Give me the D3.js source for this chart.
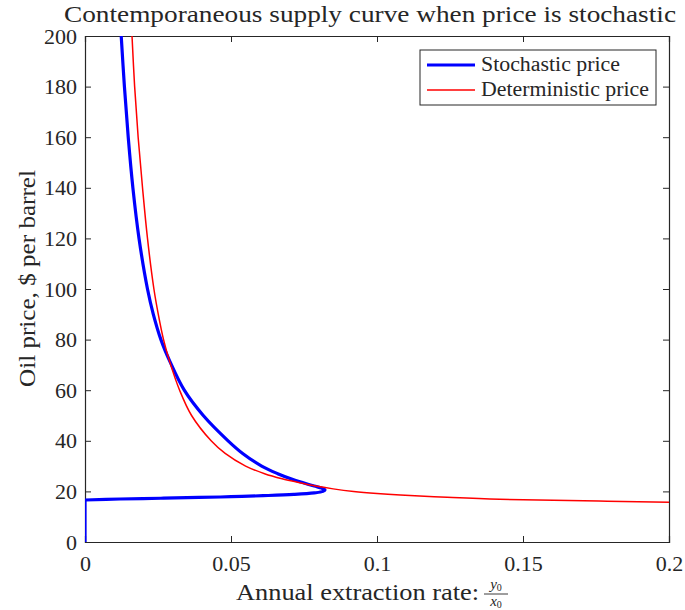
<!DOCTYPE html>
<html>
<head>
<meta charset="utf-8">
<script src="https://cdn.jsdelivr.net/npm/d3@7"></script>
<style>
  html, body { margin: 0; padding: 0; background: #fff; }
  svg text { font-family: "Liberation Serif", "DejaVu Serif", serif; fill: #262626; }
</style>
</head>
<body>
<svg id="chart" width="685" height="610"></svg>
<script>
// Stochastic-price supply curve, traced in order of price.
// Zero extraction up to the threshold price, then the curve.
const stochPriceLow = [0, 16.6];
const stochRateLow  = [0, 0];
const stochPrice = [16.6, 17.0, 17.3, 17.6, 17.9, 18.3, 18.8, 19.4, 20.0, 20.6, 21.3, 22.1, 23.5, 25.0, 27.0, 30.0, 35.0, 40, 50, 60, 71.3, 80, 90, 100, 120, 140, 160, 180, 200];
const stochRate  = [0, 0.012, 0.026, 0.039, 0.050, 0.061, 0.0715, 0.0785, 0.0815, 0.0822, 0.081, 0.0785, 0.0745, 0.0705, 0.0660, 0.0605, 0.0540, 0.0490, 0.0405, 0.0340, 0.0291, 0.0260, 0.0234, 0.0214, 0.0185, 0.0164, 0.0148, 0.0135, 0.0124];

// Deterministic-price supply curve
const detPriceLow = [0, 13.6];
const detRateLow  = [0, 0];
const detPrice = [15.6, 15.7, 16.2, 16.9, 17.7, 18.6, 19.2, 20.0, 21.0, 22.1, 23.4, 25.0, 27.0, 30.0, 35.0, 40, 50, 60, 71.3, 80, 90, 100, 120, 140, 160, 180, 200];
const detRate  = [0.21, 0.2, 0.176, 0.142, 0.124, 0.108, 0.1, 0.092, 0.085, 0.079, 0.0736, 0.0675, 0.0615, 0.0550, 0.0480, 0.0432, 0.0365, 0.0324, 0.0290, 0.0269, 0.0251, 0.0236, 0.0214, 0.0197, 0.0182, 0.0170, 0.0161];

const xTicks = [0, 0.05, 0.1, 0.15, 0.2];
const xTickLabels = ["0", "0.05", "0.1", "0.15", "0.2"];
const yTicks = [0, 20, 40, 60, 80, 100, 120, 140, 160, 180, 200];

const seriesNames = ["Stochastic price", "Deterministic price"];
const seriesColors = ["#0000ff", "#ff0000"];

const svg = d3.select("#chart");
const m = { left: 85, right: 669, top: 36, bottom: 542 };
const axisColor = "#262626";
const serif = '"Liberation Serif", "DejaVu Serif", serif';

const x = d3.scaleLinear().domain([0, 0.2]).range([m.left, m.right]);
const y = d3.scaleLinear().domain([0, 200]).range([m.bottom, m.top]);

svg.append("defs").append("clipPath").attr("id", "plotClip")
  .append("rect").attr("x", m.left).attr("y", m.top)
  .attr("width", m.right - m.left).attr("height", m.bottom - m.top);

// Axes with inward ticks on all four sides
const tickLen = 6;
const gBottom = svg.append("g").attr("transform", `translate(0,${m.bottom})`)
  .call(d3.axisBottom(x).tickValues(xTicks).tickSize(-tickLen).tickPadding(13)
        .tickFormat((d, i) => xTickLabels[i]));
const gTop = svg.append("g").attr("transform", `translate(0,${m.top})`)
  .call(d3.axisTop(x).tickValues(xTicks).tickSize(-tickLen).tickFormat(""));
const gLeft = svg.append("g").attr("transform", `translate(${m.left},0)`)
  .call(d3.axisLeft(y).tickValues(yTicks).tickSize(-tickLen).tickPadding(8));
const gRight = svg.append("g").attr("transform", `translate(${m.right},0)`)
  .call(d3.axisRight(y).tickValues(yTicks).tickSize(-tickLen).tickFormat(""));

[gBottom, gTop, gLeft, gRight].forEach(g => {
  g.select(".domain").attr("stroke", axisColor).attr("stroke-width", 1.2);
  g.selectAll(".tick line").attr("stroke", axisColor).attr("stroke-width", 1);
  g.selectAll(".tick text").attr("fill", axisColor)
    .style("font-family", serif)
    .style("font-size", "22px");
});

// Curves
const plot = svg.append("g").attr("clip-path", "url(#plotClip)");
const straight = d3.line().x(d => x(d[0])).y(d => y(d[1]));
const smooth = d3.line().x(d => x(d[0])).y(d => y(d[1])).curve(d3.curveCatmullRom.alpha(0.5));

const toPts = (ps, rs) => ps.map((p, i) => [rs[i], p]);

plot.append("path").datum(toPts(detPriceLow, detRateLow)).attr("d", straight)
  .attr("fill", "none").attr("stroke", seriesColors[1]).attr("stroke-width", 1.5);
plot.append("path").datum(toPts(stochPriceLow, stochRateLow)).attr("d", straight)
  .attr("fill", "none").attr("stroke", seriesColors[0]).attr("stroke-width", 3.2);
plot.append("path").datum(toPts(stochPrice, stochRate)).attr("d", smooth)
  .attr("fill", "none").attr("stroke", seriesColors[0]).attr("stroke-width", 3.2)
  .attr("stroke-linejoin", "round");
plot.append("path").datum(toPts(detPrice, detRate)).attr("d", smooth)
  .attr("fill", "none").attr("stroke", seriesColors[1]).attr("stroke-width", 1.5)
  .attr("stroke-linejoin", "round");

// Title
svg.append("text").attr("x", 370).attr("y", 22).attr("text-anchor", "middle")
  .style("font-size", "23px")
  .attr("textLength", 612).attr("lengthAdjust", "spacingAndGlyphs")
  .text("Contemporaneous supply curve when price is stochastic");

// Y label
svg.append("text").attr("transform", "translate(35,278.5) rotate(-90)")
  .attr("text-anchor", "middle").style("font-size", "23px")
  .attr("textLength", 217).attr("lengthAdjust", "spacingAndGlyphs")
  .text("Oil price, $ per barrel");

// X label with the fraction y0/x0
svg.append("text").attr("x", 236).attr("y", 600)
  .style("font-size", "24px")
  .attr("textLength", 243).attr("lengthAdjust", "spacingAndGlyphs")
  .text("Annual extraction rate:");
const fx = 496;
const frac = svg.append("g");
const num = frac.append("text").attr("x", fx).attr("y", 589).attr("text-anchor", "middle")
  .style("font-size", "15px").style("font-style", "italic");
num.append("tspan").text("y");
num.append("tspan").attr("font-size", "10px").attr("dy", 2).style("font-style", "normal").text("0");
frac.append("line").attr("x1", fx - 12).attr("x2", fx + 12).attr("y1", 594).attr("y2", 594)
  .attr("stroke", axisColor).attr("stroke-width", 0.9);
const den = frac.append("text").attr("x", fx).attr("y", 606).attr("text-anchor", "middle")
  .style("font-size", "15px").style("font-style", "italic");
den.append("tspan").text("x");
den.append("tspan").attr("font-size", "10px").attr("dy", 2).style("font-style", "normal").text("0");

// Legend
const legendTextLen = [139, 168];
const lg = svg.append("g");
lg.append("rect").attr("x", 420).attr("y", 50).attr("width", 236).attr("height", 55)
  .attr("fill", "#fff").attr("stroke", axisColor).attr("stroke-width", 1);
seriesNames.forEach((name, i) => {
  const ly = 65 + i * 25;
  lg.append("line").attr("x1", 427).attr("x2", 475).attr("y1", ly).attr("y2", ly)
    .attr("stroke", seriesColors[i]).attr("stroke-width", i === 0 ? 3.2 : 1.5);
  lg.append("text").attr("x", 481).attr("y", ly + 6).style("font-size", "20px")
    .attr("textLength", legendTextLen[i]).attr("lengthAdjust", "spacingAndGlyphs")
    .text(name);
});
</script>
</body>
</html>
